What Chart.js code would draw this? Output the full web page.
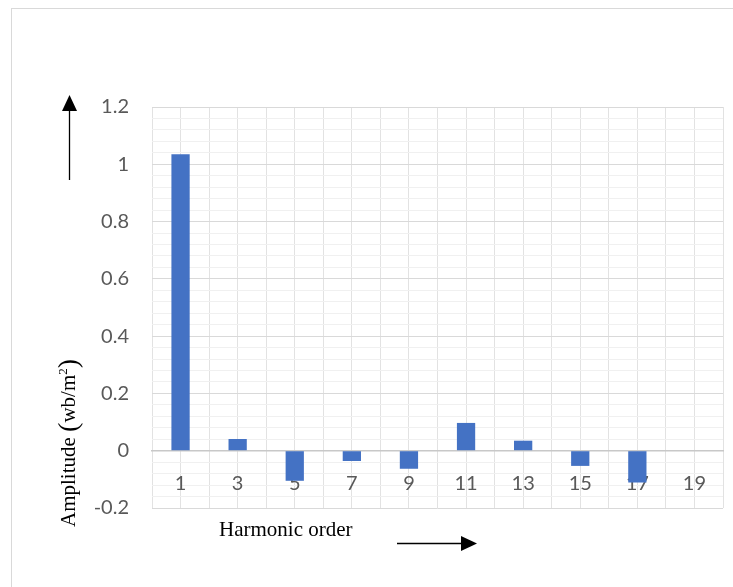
<!DOCTYPE html>
<html lang="en">

<head>
    <meta charset="UTF-8">
    <title>Harmonic amplitude</title>
    <script src="https://cdn.jsdelivr.net/npm/chart.js"></script>
    <style>
        body { margin: 0; background: #fff; }
    </style>
</head>

<body>
    <canvas id="myChart" width="733" height="587"></canvas>
    <script>
        // harmonic orders and their amplitudes (wb/m2)
        const harmonicOrder = ['1', '3', '5', '7', '9', '11', '13', '15', '17', '19'];
        const amplitude = [1.035, 0.041, -0.105, -0.036, -0.063, 0.097, 0.035, -0.053, -0.111, 0];
        const yMin = -0.2;
        const yMax = 1.2;
        const yMajorStep = 0.2;
        const yMinorStep = 0.04;

        const isMajor = v => Math.abs(Math.round(v * 50)) % 10 === 0;

        // axis titles and arrows drawn as text boxes, like in the original sheet
        const decorations = {
            id: 'decorations',
            beforeDraw(chart) {
                const ctx = chart.ctx;
                ctx.save();
                ctx.fillStyle = '#fff';
                ctx.fillRect(0, 0, chart.width, chart.height);
                ctx.strokeStyle = '#d9d9d9';
                ctx.lineWidth = 1;
                ctx.strokeRect(11.5, 8.5, 800, 700);
                ctx.restore();
            },
            afterDraw(chart) {
                const ctx = chart.ctx;
                ctx.save();
                ctx.fillStyle = '#000';
                ctx.strokeStyle = '#000';
                ctx.lineWidth = 1.3;

                // up arrow
                ctx.beginPath();
                ctx.moveTo(69.5, 180);
                ctx.lineTo(69.5, 110);
                ctx.stroke();
                ctx.beginPath();
                ctx.moveTo(69.5, 95);
                ctx.lineTo(62, 111);
                ctx.lineTo(77, 111);
                ctx.closePath();
                ctx.fill();

                // right arrow
                ctx.beginPath();
                ctx.moveTo(397, 543.5);
                ctx.lineTo(462, 543.5);
                ctx.stroke();
                ctx.beginPath();
                ctx.moveTo(477, 543.5);
                ctx.lineTo(461, 536);
                ctx.lineTo(461, 551);
                ctx.closePath();
                ctx.fill();

                ctx.textBaseline = 'alphabetic';
                ctx.textAlign = 'left';
                ctx.font = '21px "Liberation Serif"';
                ctx.fillText('Harmonic order', 219, 536);

                // y title, rotated
                ctx.translate(75, 527);
                ctx.rotate(-Math.PI / 2);
                let x = 0;
                const put = (txt, font, dy) => {
                    ctx.font = font;
                    ctx.fillText(txt, x, dy || 0);
                    x += ctx.measureText(txt).width;
                };
                put('Amplitude ', '21px "Liberation Serif"');
                put('(', '28px "Liberation Serif"', 2);
                put('wb/m', '21px "Liberation Serif"');
                put('2', '13px "Liberation Serif"', -8);
                put(')', '28px "Liberation Serif"', 2);
                ctx.restore();
            }
        };

        const data = {
            labels: harmonicOrder,
            datasets: [{
                data: amplitude,
                backgroundColor: '#4472C4',
                borderWidth: 0,
                categoryPercentage: 1,
                barPercentage: 0.32
            }]
        };

        const config = {
            type: 'bar',
            data,
            options: {
                responsive: false,
                animation: false,
                layout: { padding: { top: 107, right: 10, bottom: 79, left: 0 } },
                plugins: {
                    legend: { display: false },
                    tooltip: { enabled: false }
                },
                scales: {
                    x: {
                        position: { y: 0 },
                        offset: true,
                        z: 1,
                        grid: { offset: true, color: '#e2e2e2', drawTicks: false },
                        border: { color: '#c8c8c8', width: 1.5 },
                        ticks: {
                            color: '#595959',
                            font: { family: 'Lato', size: 20 },
                            padding: 21,
                            maxRotation: 0,
                            autoSkip: false
                        }
                    },
                    x2: {
                        type: 'category',
                        position: 'bottom',
                        offset: true,
                        grid: { offset: false, color: '#e2e2e2', drawTicks: false },
                        border: { display: false },
                        ticks: { display: false },
                        afterFit: s => { s.height = 0; }
                    },
                    y: {
                        min: yMin,
                        max: yMax,
                        grid: {
                            color: c => isMajor(c.tick.value) ? '#d9d9d9' : '#f0f0f0',
                            drawTicks: false
                        },
                        border: { display: false },
                        ticks: {
                            stepSize: yMinorStep,
                            maxTicksLimit: 100,
                            autoSkip: false,
                            padding: 23,
                            color: '#595959',
                            font: { family: 'Lato', size: 20 },
                            callback: v => isMajor(v) ? String(Math.round(v / yMajorStep * 2) / 10) : ''
                        },
                        afterFit: s => { s.width = 152; }
                    }
                }
            },
            plugins: [decorations]
        };

        var myChart = new Chart(document.getElementById('myChart'), config);
    </script>
</body>

</html>
